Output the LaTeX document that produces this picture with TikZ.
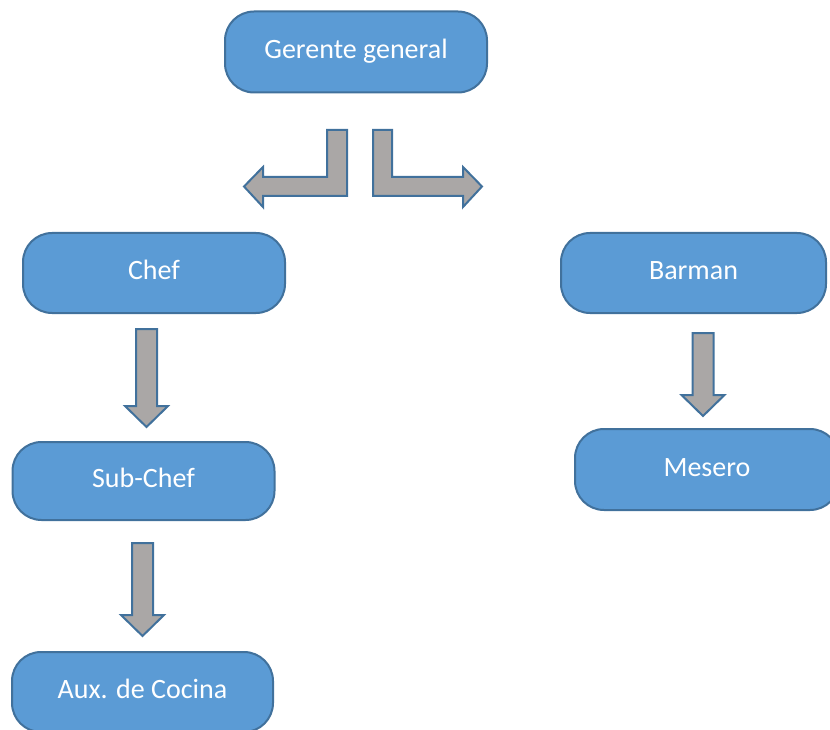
\documentclass[tikz,border=0pt]{standalone}
\usepackage{fontspec}
\setmainfont{Carlito}
\usetikzlibrary{calc}
\definecolor{cajaazul}{RGB}{91,155,213}
\definecolor{bordeazul}{RGB}{65,113,156}
\definecolor{flechagris}{RGB}{170,167,166}
\tikzset{
  puesto/.style={draw=bordeazul, line width=2pt, fill=cajaazul, rounded corners=29pt,
    text=white, font=\fontsize{28}{34}\selectfont, inner sep=0pt,
    text height=21pt, text depth=8pt, minimum width=262pt, minimum height=80pt},
  flecha/.style={draw=bordeazul, line width=2pt, fill=flechagris, line join=miter},
}
% flecha de bloque hacia abajo: #1 arriba del tallo, #2 punta
\newcommand{\flechabaja}[2]{%
  \draw[flecha] ($(#1)+(-10.5,0)$) -- ($(#1)+(10.5,0)$) -- ($(#2)+(10.5,-21)$)
    -- ($(#2)+(21.5,-21)$) -- (#2) -- ($(#2)+(-21.5,-21)$) -- ($(#2)+(-10.5,-21)$) -- cycle;}

\begin{document}
\begin{tikzpicture}[x=1pt,y=-1pt]
\useasboundingbox (0,0) rectangle (830,730);
\clip (0,0) rectangle (830,730);
% puestos
\node[puesto, minimum height=81pt] (gerente) at (356,52) {Gerente general};
\node[puesto] (chef) at (154,273) {Chef};
\node[puesto, minimum width=265pt] (barman) at (693.5,273) {Barman};
\node[puesto, minimum height=78pt] (subchef) at (143.5,481) {Sub-Chef};
\node[puesto, minimum width=264pt, minimum height=81pt] (mesero) at (707,469.5) {Mesero};
\node[puesto, minimum width=261pt] (aux) at (142.5,692) {Aux. de Cocina};
% flechas de gerente
\coordinate (izq) at (337,130);
\coordinate (der) at (382.5,130);
\draw[flecha] ($(izq)+(-10,0)$) -- ($(izq)+(10,0)$) -- (347,196) -- (263,196) -- (263,207)
  -- (244,186.5) -- (263,167) -- (263,177) -- (327,177) -- cycle;
\draw[flecha] ($(der)+(-9.5,0)$) -- ($(der)+(9.5,0)$) -- (392,177) -- (463,177) -- (463,167)
  -- (482,186.5) -- (463,207) -- (463,196) -- (373,196) -- cycle;
% flechas hacia abajo
\coordinate (a1) at (146.5,329);
\coordinate (p1) at (146.5,427);
\coordinate (a2) at (142.5,543);
\coordinate (p2) at (142.5,636);
\coordinate (a3) at (703,333);
\coordinate (p3) at (703,416);
\flechabaja{a1}{p1}
\flechabaja{a2}{p2}
\flechabaja{a3}{p3}
\end{tikzpicture}
\end{document}
